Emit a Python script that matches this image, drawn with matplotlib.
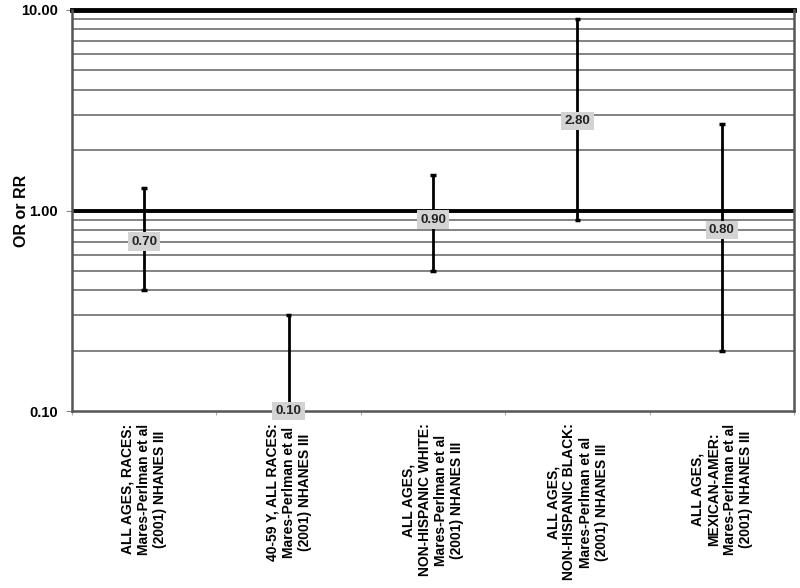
import matplotlib
matplotlib.use("Agg")
import matplotlib.pyplot as plt
from matplotlib.ticker import FixedLocator, NullFormatter, NullLocator

plt.rcParams['font.family'] = ['Liberation Sans', 'DejaVu Sans']

categories = [
    "ALL AGES, RACES:\nMares-Perlman et al\n(2001) NHANES III",
    "40-59 Y, ALL RACES:\nMares-Perlman et al\n(2001) NHANES III",
    "ALL AGES,\nNON-HISPANIC WHITE:\nMares-Perlman et al\n(2001) NHANES III",
    "ALL AGES,\nNON-HISPANIC BLACK:\nMares-Perlman et al\n(2001) NHANES III",
    "ALL AGES,\nMEXICAN-AMER:\nMares-Perlman et al\n(2001) NHANES III",
]
estimates = [0.70, 0.10, 0.90, 2.80, 0.80]
lower_ci = [0.40, 0.10, 0.50, 0.90, 0.20]
upper_ci = [1.30, 0.30, 1.50, 9.00, 2.70]
y_ticks = [0.1, 1.0, 10.0]
y_tick_labels = ["0.10", "1.00", "10.00"]
minor_grid = [0.2, 0.3, 0.4, 0.5, 0.6, 0.7, 0.8, 0.9, 2, 3, 4, 5, 6, 7, 8, 9]

fig = plt.figure(figsize=(8, 5.88), dpi=100)
ax = fig.add_axes([0.09, 0.301, 0.9025, 0.682])
ax.set_yscale('log')
ax.set_ylim(0.1, 10)
ax.set_xlim(0, len(categories))

for g in minor_grid:
    ax.axhline(g, color='#7a7a7a', lw=1.3, zorder=1)
ax.axhline(1.0, color='black', lw=2.8, zorder=2)
ax.axhline(10.0, color='black', lw=3.5, zorder=2, clip_on=False)

xs = [i + 0.5 for i in range(len(categories))]
for x, e, lo, hi in zip(xs, estimates, lower_ci, upper_ci):
    ax.vlines(x, lo, hi, color='black', lw=2, zorder=3)
    ax.hlines([lo, hi], x - 0.02, x + 0.02, color='black', lw=2.5, zorder=3, clip_on=False)
    ax.text(x, e, f"{e:.2f}", ha='center', va='center', fontsize=9.5, fontweight='bold',
            color='#222222', zorder=4, clip_on=False,
            bbox=dict(boxstyle='square,pad=0.25', fc='#d3d3d3', ec='none'))

ax.yaxis.set_major_locator(FixedLocator(y_ticks))
ax.set_yticklabels(y_tick_labels, fontsize=10.5, fontweight='bold')
ax.yaxis.set_minor_locator(NullLocator())
ax.yaxis.set_minor_formatter(NullFormatter())
ax.tick_params(axis='y', length=4, color='#888888', pad=6)

ax.set_xticks(range(len(categories) + 1))
ax.set_xticklabels([])
ax.tick_params(axis='x', length=3, color='#aaaaaa')
ax.set_xticks(xs, minor=True)
ax.set_xticklabels(categories, minor=True, rotation=90, ha='center', va='top',
                   multialignment='center', fontsize=10, fontweight='bold',
                   linespacing=1.2)
ax.tick_params(axis='x', which='minor', length=0, pad=9)

ax.set_ylabel("OR or RR", fontsize=11.5, fontweight='bold')
ax.yaxis.set_label_coords(-0.059, 0.5)

for s in ['left', 'bottom', 'right']:
    ax.spines[s].set_color('#555555')
    ax.spines[s].set_linewidth(1.8)
ax.spines['top'].set_visible(False)

fig.savefig("out.png", dpi=100)
